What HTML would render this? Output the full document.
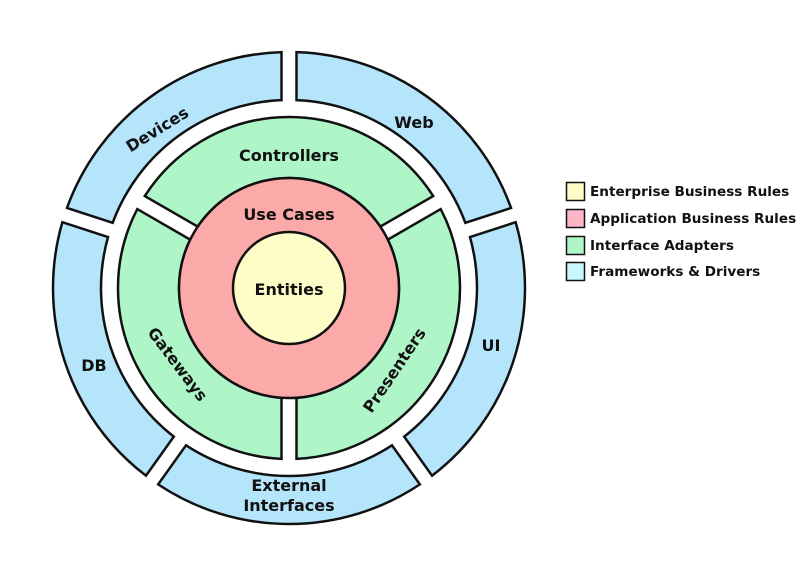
<!DOCTYPE html>
<html><head><meta charset="utf-8"><style>
html,body{margin:0;padding:0;background:#fff;}
svg{display:block;}
text{font-family:"DejaVu Sans","Liberation Sans",sans-serif;font-weight:bold;fill:#111;}
</style></head><body>
<svg id="s" width="800" height="576" viewBox="0 0 800 576" xmlns="http://www.w3.org/2000/svg">
<g id="rings"></g>
<circle cx="289" cy="288" r="110" fill="#fbaaa9" stroke="#111" stroke-width="2.5"/>
<circle cx="289" cy="288" r="56" fill="#fdfdc8" stroke="#111" stroke-width="2.5"/>
<g font-size="16" text-anchor="middle">
<text x="289" y="161">Controllers</text>
<text x="289" y="220">Use Cases</text>
<text x="289" y="295">Entities</text>
<text x="414" y="128">Web</text>
<text x="491" y="351">UI</text>
<text x="94" y="371">DB</text>
<text x="289" y="491">External</text>
<text x="289" y="511">Interfaces</text>
<text transform="translate(157,129) rotate(-32)" y="6">Devices</text>
<text transform="translate(178,364) rotate(53)" y="6">Gateways</text>
<text transform="translate(394,370) rotate(-56)" y="6">Presenters</text>
</g>
<g stroke="#111" stroke-width="1.5">
<rect x="566.5" y="182.5" width="18" height="18" fill="#fdfdc8"/>
<rect x="566.5" y="209.5" width="18" height="18" fill="#fdb6c8"/>
<rect x="566.5" y="236.5" width="18" height="18" fill="#aef5c8"/>
<rect x="566.5" y="262.5" width="18" height="18" fill="#c8f8fd"/>
</g>
<g font-size="13.6">
<text x="590" y="196">Enterprise Business Rules</text>
<text x="590" y="223">Application Business Rules</text>
<text x="590" y="250">Interface Adapters</text>
<text x="590" y="276">Frameworks &amp; Drivers</text>
</g>
</svg>
<script>
(function(){
var cx=289,cy=288,g=document.getElementById('rings');
function seg(Ro,Ri,a1,a2,h,fill){
  var d=Math.PI/180;a1*=d;a2*=d;
  var o1=a1+Math.asin(h/Ro),o2=a2-Math.asin(h/Ro),i1=a1+Math.asin(h/Ri),i2=a2-Math.asin(h/Ri);
  function p(r,a){return (cx+r*Math.cos(a)).toFixed(2)+' '+(cy+r*Math.sin(a)).toFixed(2);}
  var lo=(o2-o1)>Math.PI?1:0,li=(i2-i1)>Math.PI?1:0;
  var path='M'+p(Ro,o1)+' A'+Ro+' '+Ro+' 0 '+lo+' 1 '+p(Ro,o2)+' L'+p(Ri,i2)+' A'+Ri+' '+Ri+' 0 '+li+' 0 '+p(Ri,i1)+' Z';
  var e=document.createElementNS('http://www.w3.org/2000/svg','path');
  e.setAttribute('d',path);e.setAttribute('fill',fill);e.setAttribute('stroke','#111');e.setAttribute('stroke-width','2.5');e.setAttribute('stroke-linejoin','miter');
  g.appendChild(e);
}
var B='#b5e5fb',G='#aef5c8',h=7.5;
seg(236,188,-90,-18,h,B);
seg(236,188,-18,54.5,h,B);
seg(236,188,54.5,125.5,h,B);
seg(236,188,125.5,198,h,B);
seg(236,188,198,270,h,B);
seg(171,110,-150,-30,h,G);
seg(171,110,-30,90,h,G);
seg(171,110,90,210,h,G);
})();
</script>
</body></html>
